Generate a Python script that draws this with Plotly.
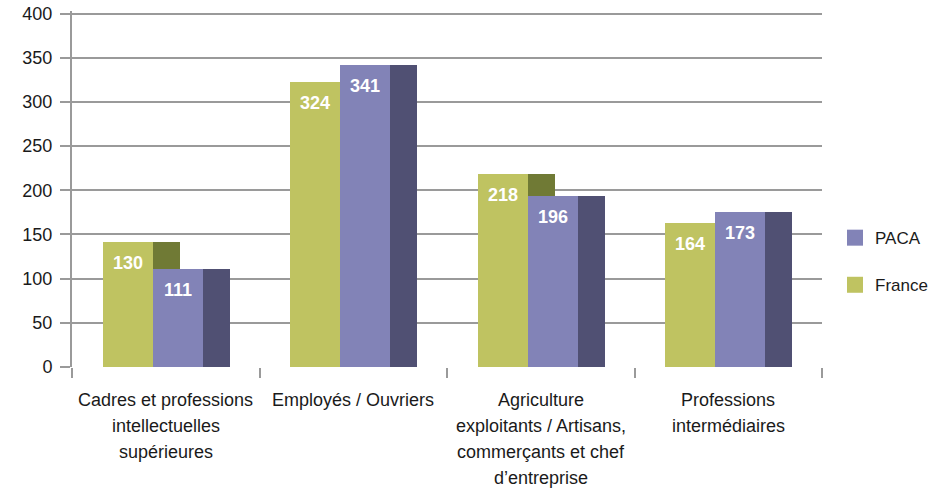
import plotly.graph_objects as go

category_lines = [
    ["Cadres et professions", "intellectuelles", "supérieures"],
    ["Employés / Ouvriers"],
    ["Agriculture", "exploitants / Artisans,", "commerçants et chef", "d’entreprise"],
    ["Professions", "intermédiaires"],
]
# bar heights as drawn in the picture
france_values = [141, 323, 219, 163]
paca_values = [111, 342, 194, 175]
# value labels printed on the bars
france_labels = ["130", "324", "218", "164"]
paca_labels = ["111", "341", "196", "173"]
y_ticks = [0, 50, 100, 150, 200, 250, 300, 350, 400]

FONT = "Liberation Sans, Arial, sans-serif"
GRID = "#9a9a9a"
TXT = "#1a1a1a"

x = list(range(len(category_lines)))
front_w = 0.266
side_w = 0.144
off_green = -0.3356
off_paca = off_green + front_w

fig = go.Figure()

def add_bar(vals, offset, width, color):
    fig.add_trace(go.Bar(
        x=x, y=vals, offset=offset, width=width,
        marker=dict(color=color, line=dict(width=0)),
        showlegend=False, hoverinfo="skip",
    ))

add_bar(france_values, off_green, front_w, "#bfc361")
add_bar(france_values, off_green + front_w, side_w, "#707a35")
add_bar(paca_values, off_paca, front_w, "#8283b7")
add_bar(paca_values, off_paca + front_w, side_w, "#505073")

# legend entries (PACA first, then France)
for name, color, grp in [("PACA", "#8283b7", "g1"), ("France", "#bfc361", "g2")]:
    fig.add_trace(go.Scatter(
        x=[None], y=[None], mode="markers", name=name, legendgroup=grp,
        marker=dict(symbol="square", size=16, color=color),
    ))

annotations = []
for i in x:
    annotations.append(dict(
        x=i + off_green + front_w / 2, y=france_values[i], xref="x", yref="y",
        text=france_labels[i], showarrow=False, yshift=-21, yanchor="middle",
        font=dict(family=FONT, size=18, color="white", weight="bold"),
    ))
    annotations.append(dict(
        x=i + off_paca + front_w / 2, y=paca_values[i], xref="x", yref="y",
        text=paca_labels[i], showarrow=False, yshift=-21, yanchor="middle",
        font=dict(family=FONT, size=18, color="white", weight="bold"),
    ))
    for k, line in enumerate(category_lines[i]):
        annotations.append(dict(
            x=i, y=0, xref="x", yref="y", text=line, showarrow=False,
            yanchor="middle", yshift=-(33 + 26 * k), align="center",
            font=dict(family=FONT, size=18, color=TXT),
        ))

fig.update_layout(
    width=943, height=490, autosize=False,
    margin=dict(l=72, r=120, t=11, b=123),
    paper_bgcolor="white", plot_bgcolor="white",
    barmode="overlay", bargap=0,
    font=dict(family=FONT, size=18, color=TXT),
    annotations=annotations,
    showlegend=True,
    legend=dict(
        x=1.016, xanchor="left", y=0.296, yanchor="middle",
        traceorder="grouped", tracegroupgap=22,
        font=dict(family=FONT, size=17, color=TXT),
        bgcolor="rgba(0,0,0,0)",
    ),
    hovermode=False,
)
fig.update_xaxes(
    range=[-0.5, 3.5], tickvals=[-0.5, 0.5, 1.5, 2.5, 3.5], ticktext=["", "", "", "", ""],
    ticks="outside", ticklen=10, tickwidth=2, tickcolor=GRID,
    showgrid=False, zeroline=False, showline=False, automargin=False,
)
fig.update_yaxes(
    range=[0, 403], tickvals=y_ticks, ticks="outside", ticklen=10, tickwidth=2,
    tickcolor=GRID, showgrid=True, gridcolor=GRID, gridwidth=2,
    showline=True, linecolor=GRID, linewidth=2, zeroline=False, automargin=False,
    tickfont=dict(family=FONT, size=18, color=TXT), ticklabelstandoff=4,
)

fig.write_html(
    "out.html",
    config={"displayModeBar": False, "staticPlot": True},
    post_script="document.body.style.margin='0';document.body.style.overflow='hidden';",
)
